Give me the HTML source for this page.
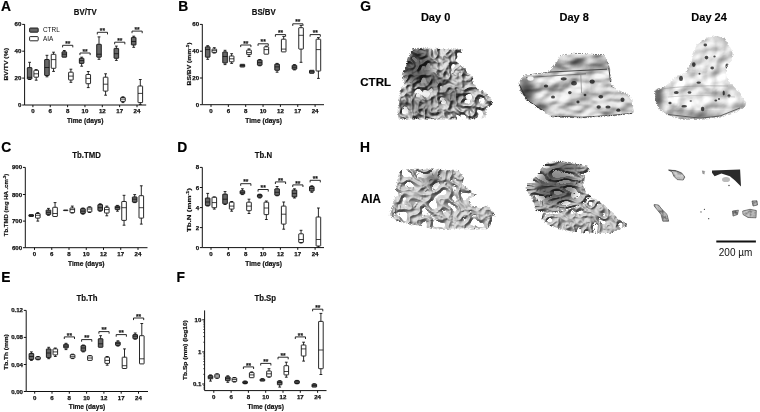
<!DOCTYPE html>
<html><head><meta charset="utf-8"><style>
html,body{margin:0;padding:0;background:#fff;}
body{width:760px;height:412px;overflow:hidden;}
svg{display:block;font-family:"Liberation Sans", sans-serif;will-change:transform;}
.ax{fill:none;stroke:#111;stroke-width:1.0;}
.mn{fill:none;stroke:#111;stroke-width:0.7;}
.wk{fill:none;stroke:#111;stroke-width:0.9;}
.bc{fill:#666;stroke:#111;stroke-width:0.9;}
.ba{fill:#fff;stroke:#111;stroke-width:0.9;}
.md{fill:none;stroke:#111;stroke-width:0.8;}
.br{fill:none;stroke:#111;stroke-width:0.9;}
.tk{font-size:6.1px;font-weight:bold;fill:#111;stroke:#111;stroke-width:0.25;}
.xl{font-size:6.6px;font-weight:bold;fill:#111;stroke:#111;stroke-width:0.2;}
.yl{font-size:6.0px;font-weight:bold;fill:#111;stroke:#111;stroke-width:0.2;}
.ti{font-size:7.8px;font-weight:bold;fill:#111;stroke:#111;stroke-width:0.15;}
.lt{font-size:13.8px;font-weight:bold;fill:#000;stroke:#000;stroke-width:0.2;}
.st{font-size:6.6px;font-weight:bold;fill:#111;stroke:#111;stroke-width:0.15;}
.lg{font-size:6.4px;fill:#111;}
.big{font-size:11px;font-weight:bold;fill:#000;stroke:#000;stroke-width:0.15;}
.lab{font-size:11.5px;font-weight:bold;fill:#000;stroke:#000;stroke-width:0.2;}
.sb{font-size:10px;fill:#111;}
</style></head><body>
<svg width="760" height="412" viewBox="0 0 760 412">
<path d="M24.6,24.2V105.0H146.2" class="ax"/>
<path d="M22.20,24.40H24.6" class="ax"/>
<text x="21.40" y="26.40" class="tk" text-anchor="end">60</text>
<path d="M22.20,51.20H24.6" class="ax"/>
<text x="21.40" y="53.20" class="tk" text-anchor="end">40</text>
<path d="M22.20,78.10H24.6" class="ax"/>
<text x="21.40" y="80.10" class="tk" text-anchor="end">20</text>
<path d="M22.20,105.00H24.6" class="ax"/>
<text x="21.40" y="107.00" class="tk" text-anchor="end">0</text>
<path d="M32.90,105.0V107.20" class="ax"/>
<text x="32.90" y="113.20" class="tk" text-anchor="middle">0</text>
<path d="M50.25,105.0V107.20" class="ax"/>
<text x="50.25" y="113.20" class="tk" text-anchor="middle">6</text>
<path d="M67.60,105.0V107.20" class="ax"/>
<text x="67.60" y="113.20" class="tk" text-anchor="middle">8</text>
<path d="M84.95,105.0V107.20" class="ax"/>
<text x="84.95" y="113.20" class="tk" text-anchor="middle">10</text>
<path d="M102.30,105.0V107.20" class="ax"/>
<text x="102.30" y="113.20" class="tk" text-anchor="middle">12</text>
<path d="M119.65,105.0V107.20" class="ax"/>
<text x="119.65" y="113.20" class="tk" text-anchor="middle">17</text>
<path d="M137.00,105.0V107.20" class="ax"/>
<text x="137.00" y="113.20" class="tk" text-anchor="middle">24</text>
<text x="85.2" y="122.9" class="xl" text-anchor="middle">Time (days)</text>
<text transform="translate(7.6,64.3) rotate(-90)" class="yl" text-anchor="middle" textLength="32.5" lengthAdjust="spacingAndGlyphs">BV/TV (%)</text>
<text transform="translate(85.3,14.9) scale(1,1.2)" class="ti" text-anchor="middle">BV/TV</text>
<text x="1.0" y="11.1" class="lt">A</text>
<path d="M29.60,62.3V67.6M28.20,62.3H31.00" class="wk"/>
<path d="M29.60,79.1V79.5M28.20,79.5H31.00" class="wk"/>
<rect x="27.30" y="67.6" width="4.6" height="11.50" rx="0.4" class="bc"/>
<path d="M27.30,77.3H31.90" class="md"/>
<path d="M36.20,69.6V70.3M34.80,69.6H37.60" class="wk"/>
<path d="M36.20,77.2V80.2M34.80,80.2H37.60" class="wk"/>
<rect x="33.90" y="70.3" width="4.6" height="6.90" rx="0.4" class="ba"/>
<path d="M33.90,73.8H38.50" class="md"/>
<path d="M46.95,55.3V59.5M45.55,55.3H48.35" class="wk"/>
<path d="M46.95,75.5V76.8M45.55,76.8H48.35" class="wk"/>
<rect x="44.65" y="59.5" width="4.6" height="16.00" rx="0.4" class="bc"/>
<path d="M44.65,67.5H49.25" class="md"/>
<path d="M53.55,52.2V54.3M52.15,52.2H54.95" class="wk"/>
<path d="M53.55,68.3V71.4M52.15,71.4H54.95" class="wk"/>
<rect x="51.25" y="54.3" width="4.6" height="14.00" rx="0.4" class="ba"/>
<path d="M51.25,59.6H55.85" class="md"/>
<path d="M64.30,50.5V51.8M62.90,50.5H65.70" class="wk"/>
<rect x="62.00" y="51.8" width="4.6" height="5.40" rx="0.4" class="bc"/>
<path d="M62.00,54.2H66.60" class="md"/>
<path d="M70.90,69.2V72.2M69.50,69.2H72.30" class="wk"/>
<path d="M70.90,80.0V82.3M69.50,82.3H72.30" class="wk"/>
<rect x="68.60" y="72.2" width="4.6" height="7.80" rx="0.4" class="ba"/>
<path d="M68.60,76.1H73.20" class="md"/>
<path d="M81.65,57.2V58.3M80.25,57.2H83.05" class="wk"/>
<path d="M81.65,63.4V66.2M80.25,66.2H83.05" class="wk"/>
<rect x="79.35" y="58.3" width="4.6" height="5.10" rx="0.4" class="bc"/>
<path d="M79.35,60.6H83.95" class="md"/>
<path d="M88.25,71.5V74.5M86.85,71.5H89.65" class="wk"/>
<path d="M88.25,83.7V87.6M86.85,87.6H89.65" class="wk"/>
<rect x="85.95" y="74.5" width="4.6" height="9.20" rx="0.4" class="ba"/>
<path d="M85.95,78.4H90.55" class="md"/>
<path d="M99.00,36.9V44.3M97.60,36.9H100.40" class="wk"/>
<path d="M99.00,57.2V59.3M97.60,59.3H100.40" class="wk"/>
<rect x="96.70" y="44.3" width="4.6" height="12.90" rx="0.4" class="bc"/>
<path d="M96.70,54.2H101.30" class="md"/>
<path d="M105.60,73.8V77.2M104.20,73.8H107.00" class="wk"/>
<path d="M105.60,91.1V95.2M104.20,95.2H107.00" class="wk"/>
<rect x="103.30" y="77.2" width="4.6" height="13.90" rx="0.4" class="ba"/>
<path d="M103.30,84.2H107.90" class="md"/>
<path d="M116.35,46.1V48.4M114.95,46.1H117.75" class="wk"/>
<path d="M116.35,58.3V60.4M114.95,60.4H117.75" class="wk"/>
<rect x="114.05" y="48.4" width="4.6" height="9.90" rx="0.4" class="bc"/>
<path d="M114.05,53.7H118.65" class="md"/>
<path d="M122.95,96.8V97.5M121.55,96.8H124.35" class="wk"/>
<path d="M122.95,101.4V102.6M121.55,102.6H124.35" class="wk"/>
<rect x="120.65" y="97.5" width="4.6" height="3.90" rx="0.4" class="ba"/>
<path d="M120.65,99.1H125.25" class="md"/>
<path d="M133.70,36.2V37.4M132.30,36.2H135.10" class="wk"/>
<path d="M133.70,45.0V47.3M132.30,47.3H135.10" class="wk"/>
<rect x="131.40" y="37.4" width="4.6" height="7.60" rx="0.4" class="bc"/>
<path d="M131.40,41.5H136.00" class="md"/>
<path d="M140.30,79.5V86.0M138.90,79.5H141.70" class="wk"/>
<path d="M140.30,102.6V104.4M138.90,104.4H141.70" class="wk"/>
<rect x="138.00" y="86.0" width="4.6" height="16.60" rx="0.4" class="ba"/>
<path d="M138.00,93.4H142.60" class="md"/>
<path d="M62.60,47.40V45.3H72.80V47.40" class="br"/>
<text x="67.70" y="45.90" class="st" text-anchor="middle">**</text>
<path d="M79.95,55.10V53.0H90.15V55.10" class="br"/>
<text x="85.05" y="53.60" class="st" text-anchor="middle">**</text>
<path d="M97.30,34.40V32.3H107.50V34.40" class="br"/>
<text x="102.40" y="32.90" class="st" text-anchor="middle">**</text>
<path d="M114.65,44.30V42.2H124.85V44.30" class="br"/>
<text x="119.75" y="42.80" class="st" text-anchor="middle">**</text>
<path d="M132.00,33.20V31.1H142.20V33.20" class="br"/>
<text x="137.10" y="31.70" class="st" text-anchor="middle">**</text>
<path d="M202.3,24.2V104.7H324.0" class="ax"/>
<path d="M199.90,24.40H202.3" class="ax"/>
<text x="199.10" y="26.40" class="tk" text-anchor="end">60</text>
<path d="M199.90,51.20H202.3" class="ax"/>
<text x="199.10" y="53.20" class="tk" text-anchor="end">40</text>
<path d="M199.90,78.00H202.3" class="ax"/>
<text x="199.10" y="80.00" class="tk" text-anchor="end">20</text>
<path d="M199.90,104.70H202.3" class="ax"/>
<text x="199.10" y="106.70" class="tk" text-anchor="end">0</text>
<path d="M211.00,104.7V106.90" class="ax"/>
<text x="211.00" y="112.90" class="tk" text-anchor="middle">0</text>
<path d="M228.35,104.7V106.90" class="ax"/>
<text x="228.35" y="112.90" class="tk" text-anchor="middle">6</text>
<path d="M245.70,104.7V106.90" class="ax"/>
<text x="245.70" y="112.90" class="tk" text-anchor="middle">8</text>
<path d="M263.05,104.7V106.90" class="ax"/>
<text x="263.05" y="112.90" class="tk" text-anchor="middle">10</text>
<path d="M280.40,104.7V106.90" class="ax"/>
<text x="280.40" y="112.90" class="tk" text-anchor="middle">12</text>
<path d="M297.75,104.7V106.90" class="ax"/>
<text x="297.75" y="112.90" class="tk" text-anchor="middle">17</text>
<path d="M315.10,104.7V106.90" class="ax"/>
<text x="315.10" y="112.90" class="tk" text-anchor="middle">24</text>
<text x="263.6" y="122.6" class="xl" text-anchor="middle">Time (days)</text>
<text transform="translate(190.6,63.9) rotate(-90)" class="yl" text-anchor="middle" textLength="43.0" lengthAdjust="spacingAndGlyphs">BS/BV (mm<tspan dy="-2" font-size="4.0">-1</tspan><tspan dy="2">)</tspan></text>
<text transform="translate(263.7,14.9) scale(1,1.2)" class="ti" text-anchor="middle">BS/BV</text>
<text x="178.3" y="11.1" class="lt">B</text>
<path d="M207.70,45.7V46.8M206.30,45.7H209.10" class="wk"/>
<path d="M207.70,57.2V59.3M206.30,59.3H209.10" class="wk"/>
<rect x="205.40" y="46.8" width="4.6" height="10.40" rx="0.4" class="bc"/>
<path d="M205.40,49.6H210.00" class="md"/>
<path d="M214.30,47.7V49.1M212.90,47.7H215.70" class="wk"/>
<path d="M214.30,52.6V53.0M212.90,53.0H215.70" class="wk"/>
<rect x="212.00" y="49.1" width="4.6" height="3.50" rx="0.4" class="ba"/>
<path d="M212.00,50.7H216.60" class="md"/>
<path d="M225.05,50.3V51.9M223.65,50.3H226.45" class="wk"/>
<path d="M225.05,63.0V64.6M223.65,64.6H226.45" class="wk"/>
<rect x="222.75" y="51.9" width="4.6" height="11.10" rx="0.4" class="bc"/>
<path d="M222.75,56.5H227.35" class="md"/>
<path d="M231.65,53.7V56.0M230.25,53.7H233.05" class="wk"/>
<path d="M231.65,61.8V63.4M230.25,63.4H233.05" class="wk"/>
<rect x="229.35" y="56.0" width="4.6" height="5.80" rx="0.4" class="ba"/>
<path d="M229.35,58.8H233.95" class="md"/>
<rect x="240.10" y="64.3" width="4.6" height="2.70" rx="0.4" class="bc"/>
<path d="M240.10,65.5H244.70" class="md"/>
<path d="M249.00,48.9V50.0M247.60,48.9H250.40" class="wk"/>
<path d="M249.00,54.6V56.5M247.60,56.5H250.40" class="wk"/>
<rect x="246.70" y="50.0" width="4.6" height="4.60" rx="0.4" class="ba"/>
<path d="M246.70,52.6H251.30" class="md"/>
<path d="M259.75,59.5V60.0M258.35,59.5H261.15" class="wk"/>
<path d="M259.75,65.3V65.8M258.35,65.8H261.15" class="wk"/>
<rect x="257.45" y="60.0" width="4.6" height="5.30" rx="0.4" class="bc"/>
<path d="M257.45,62.7H262.05" class="md"/>
<path d="M266.35,46.1V46.8M264.95,46.1H267.75" class="wk"/>
<rect x="264.05" y="46.8" width="4.6" height="7.40" rx="0.4" class="ba"/>
<path d="M264.05,49.6H268.65" class="md"/>
<path d="M277.10,63.4V64.1M275.70,63.4H278.50" class="wk"/>
<path d="M277.10,70.3V72.2M275.70,72.2H278.50" class="wk"/>
<rect x="274.80" y="64.1" width="4.6" height="6.20" rx="0.4" class="bc"/>
<path d="M274.80,66.9H279.40" class="md"/>
<path d="M283.70,36.4V39.2M282.30,36.4H285.10" class="wk"/>
<rect x="281.40" y="39.2" width="4.6" height="12.70" rx="0.4" class="ba"/>
<path d="M281.40,49.1H286.00" class="md"/>
<path d="M294.45,64.6V65.3M293.05,64.6H295.85" class="wk"/>
<path d="M294.45,69.2V69.9M293.05,69.9H295.85" class="wk"/>
<rect x="292.15" y="65.3" width="4.6" height="3.90" rx="0.4" class="bc"/>
<path d="M292.15,67.2H296.75" class="md"/>
<path d="M301.05,25.4V27.7M299.65,25.4H302.45" class="wk"/>
<path d="M301.05,49.1V62.3M299.65,62.3H302.45" class="wk"/>
<rect x="298.75" y="27.7" width="4.6" height="21.40" rx="0.4" class="ba"/>
<path d="M298.75,35.3H303.35" class="md"/>
<rect x="309.50" y="70.3" width="4.6" height="3.00" rx="0.4" class="bc"/>
<path d="M309.50,71.8H314.10" class="md"/>
<path d="M318.40,37.6V39.2M317.00,37.6H319.80" class="wk"/>
<path d="M318.40,71.0V78.4M317.00,78.4H319.80" class="wk"/>
<rect x="316.10" y="39.2" width="4.6" height="31.80" rx="0.4" class="ba"/>
<path d="M316.10,49.6H320.70" class="md"/>
<path d="M240.70,47.10V45.0H250.90V47.10" class="br"/>
<text x="245.80" y="45.60" class="st" text-anchor="middle">**</text>
<path d="M258.05,45.90V43.8H268.25V45.90" class="br"/>
<text x="263.15" y="44.40" class="st" text-anchor="middle">**</text>
<path d="M275.40,36.70V34.6H285.60V36.70" class="br"/>
<text x="280.50" y="35.20" class="st" text-anchor="middle">**</text>
<path d="M292.75,25.90V23.8H302.95V25.90" class="br"/>
<text x="297.85" y="24.40" class="st" text-anchor="middle">**</text>
<path d="M310.10,36.70V34.6H320.30V36.70" class="br"/>
<text x="315.20" y="35.20" class="st" text-anchor="middle">**</text>
<path d="M25.3,167.4V247.7H147.5" class="ax"/>
<path d="M22.90,167.40H25.3" class="ax"/>
<text x="22.10" y="169.40" class="tk" text-anchor="end">900</text>
<path d="M22.90,194.50H25.3" class="ax"/>
<text x="22.10" y="196.50" class="tk" text-anchor="end">800</text>
<path d="M22.90,221.10H25.3" class="ax"/>
<text x="22.10" y="223.10" class="tk" text-anchor="end">700</text>
<path d="M22.90,247.70H25.3" class="ax"/>
<text x="22.10" y="249.70" class="tk" text-anchor="end">600</text>
<path d="M34.50,247.7V249.90" class="ax"/>
<text x="34.50" y="255.90" class="tk" text-anchor="middle">0</text>
<path d="M51.75,247.7V249.90" class="ax"/>
<text x="51.75" y="255.90" class="tk" text-anchor="middle">6</text>
<path d="M69.00,247.7V249.90" class="ax"/>
<text x="69.00" y="255.90" class="tk" text-anchor="middle">8</text>
<path d="M86.25,247.7V249.90" class="ax"/>
<text x="86.25" y="255.90" class="tk" text-anchor="middle">10</text>
<path d="M103.50,247.7V249.90" class="ax"/>
<text x="103.50" y="255.90" class="tk" text-anchor="middle">12</text>
<path d="M120.75,247.7V249.90" class="ax"/>
<text x="120.75" y="255.90" class="tk" text-anchor="middle">17</text>
<path d="M138.00,247.7V249.90" class="ax"/>
<text x="138.00" y="255.90" class="tk" text-anchor="middle">24</text>
<text x="86.3" y="265.6" class="xl" text-anchor="middle">Time (days)</text>
<text transform="translate(7.5,204.9) rotate(-90)" class="yl" text-anchor="middle" textLength="62.5" lengthAdjust="spacingAndGlyphs">Tb.TMD (mg HA .cm<tspan dy="-2" font-size="4.0">-3</tspan><tspan dy="2">)</tspan></text>
<text transform="translate(86.6,158.1) scale(1,1.2)" class="ti" text-anchor="middle">Tb.TMD</text>
<text x="1.2" y="152.0" class="lt">C</text>
<rect x="28.90" y="214.6" width="4.6" height="1.90" rx="0.4" class="bc"/>
<path d="M28.90,215.5H33.50" class="md"/>
<path d="M37.80,212.6V213.5M36.40,212.6H39.20" class="wk"/>
<path d="M37.80,218.1V221.1M36.40,221.1H39.20" class="wk"/>
<rect x="35.50" y="213.5" width="4.6" height="4.60" rx="0.4" class="ba"/>
<path d="M35.50,215.3H40.10" class="md"/>
<path d="M48.45,208.4V210.0M47.05,208.4H49.85" class="wk"/>
<path d="M48.45,214.6V215.3M47.05,215.3H49.85" class="wk"/>
<rect x="46.15" y="210.0" width="4.6" height="4.60" rx="0.4" class="bc"/>
<path d="M46.15,212.3H50.75" class="md"/>
<path d="M55.05,202.6V207.3M53.65,202.6H56.45" class="wk"/>
<rect x="52.75" y="207.3" width="4.6" height="9.20" rx="0.4" class="ba"/>
<path d="M52.75,213.5H57.35" class="md"/>
<rect x="63.40" y="210.0" width="4.6" height="0.60" rx="0.4" class="bc"/>
<path d="M72.30,206.1V208.0M70.90,206.1H73.70" class="wk"/>
<path d="M72.30,212.6V213.0M70.90,213.0H73.70" class="wk"/>
<rect x="70.00" y="208.0" width="4.6" height="4.60" rx="0.4" class="ba"/>
<path d="M70.00,209.6H74.60" class="md"/>
<path d="M82.95,208.0V208.6M81.55,208.0H84.35" class="wk"/>
<path d="M82.95,213.5V214.2M81.55,214.2H84.35" class="wk"/>
<rect x="80.65" y="208.6" width="4.6" height="4.90" rx="0.4" class="bc"/>
<path d="M80.65,211.2H85.25" class="md"/>
<path d="M89.55,206.8V207.3M88.15,206.8H90.95" class="wk"/>
<path d="M89.55,211.9V212.5M88.15,212.5H90.95" class="wk"/>
<rect x="87.25" y="207.3" width="4.6" height="4.60" rx="0.4" class="ba"/>
<path d="M87.25,209.0H91.85" class="md"/>
<path d="M100.20,203.8V204.5M98.80,203.8H101.60" class="wk"/>
<path d="M100.20,210.7V211.2M98.80,211.2H101.60" class="wk"/>
<rect x="97.90" y="204.5" width="4.6" height="6.20" rx="0.4" class="bc"/>
<path d="M97.90,207.7H102.50" class="md"/>
<path d="M106.80,206.1V207.3M105.40,206.1H108.20" class="wk"/>
<path d="M106.80,213.0V215.8M105.40,215.8H108.20" class="wk"/>
<rect x="104.50" y="207.3" width="4.6" height="5.70" rx="0.4" class="ba"/>
<path d="M104.50,209.6H109.10" class="md"/>
<path d="M117.45,205.4V206.1M116.05,205.4H118.85" class="wk"/>
<path d="M117.45,209.6V211.2M116.05,211.2H118.85" class="wk"/>
<rect x="115.15" y="206.1" width="4.6" height="3.50" rx="0.4" class="bc"/>
<path d="M115.15,207.5H119.75" class="md"/>
<path d="M124.05,195.3V201.5M122.65,195.3H125.45" class="wk"/>
<path d="M124.05,220.4V225.2M122.65,225.2H125.45" class="wk"/>
<rect x="121.75" y="201.5" width="4.6" height="18.90" rx="0.4" class="ba"/>
<path d="M121.75,207.7H126.35" class="md"/>
<path d="M134.70,194.6V196.9M133.30,194.6H136.10" class="wk"/>
<path d="M134.70,202.2V202.6M133.30,202.6H136.10" class="wk"/>
<rect x="132.40" y="196.9" width="4.6" height="5.30" rx="0.4" class="bc"/>
<path d="M132.40,199.2H137.00" class="md"/>
<path d="M141.30,185.8V195.7M139.90,185.8H142.70" class="wk"/>
<path d="M141.30,218.1V224.1M139.90,224.1H142.70" class="wk"/>
<rect x="139.00" y="195.7" width="4.6" height="22.40" rx="0.4" class="ba"/>
<path d="M139.00,207.7H143.60" class="md"/>
<path d="M202.3,167.4V247.6H324.0" class="ax"/>
<path d="M199.90,167.40H202.3" class="ax"/>
<text x="199.10" y="169.40" class="tk" text-anchor="end">8</text>
<path d="M199.90,187.50H202.3" class="ax"/>
<text x="199.10" y="189.50" class="tk" text-anchor="end">6</text>
<path d="M199.90,207.60H202.3" class="ax"/>
<text x="199.10" y="209.60" class="tk" text-anchor="end">4</text>
<path d="M199.90,227.60H202.3" class="ax"/>
<text x="199.10" y="229.60" class="tk" text-anchor="end">2</text>
<path d="M199.90,247.60H202.3" class="ax"/>
<text x="199.10" y="249.60" class="tk" text-anchor="end">0</text>
<path d="M211.00,247.6V249.80" class="ax"/>
<text x="211.00" y="255.80" class="tk" text-anchor="middle">0</text>
<path d="M228.35,247.6V249.80" class="ax"/>
<text x="228.35" y="255.80" class="tk" text-anchor="middle">6</text>
<path d="M245.70,247.6V249.80" class="ax"/>
<text x="245.70" y="255.80" class="tk" text-anchor="middle">8</text>
<path d="M263.05,247.6V249.80" class="ax"/>
<text x="263.05" y="255.80" class="tk" text-anchor="middle">10</text>
<path d="M280.40,247.6V249.80" class="ax"/>
<text x="280.40" y="255.80" class="tk" text-anchor="middle">12</text>
<path d="M297.75,247.6V249.80" class="ax"/>
<text x="297.75" y="255.80" class="tk" text-anchor="middle">17</text>
<path d="M315.10,247.6V249.80" class="ax"/>
<text x="315.10" y="255.80" class="tk" text-anchor="middle">24</text>
<text x="263.6" y="265.6" class="xl" text-anchor="middle">Time (days)</text>
<text transform="translate(190.6,210.1) rotate(-90)" class="yl" text-anchor="middle" textLength="44.0" lengthAdjust="spacingAndGlyphs">Tb.N (mm<tspan dy="-2" font-size="4.0">-1</tspan><tspan dy="2">)</tspan></text>
<text transform="translate(263.5,158.1) scale(1,1.2)" class="ti" text-anchor="middle">Tb.N</text>
<text x="177.3" y="152.0" class="lt">D</text>
<path d="M207.70,193.4V198.0M206.30,193.4H209.10" class="wk"/>
<path d="M207.70,205.6V206.0M206.30,206.0H209.10" class="wk"/>
<rect x="205.40" y="198.0" width="4.6" height="7.60" rx="0.4" class="bc"/>
<path d="M205.40,202.0H210.00" class="md"/>
<path d="M214.30,196.9V197.3M212.90,196.9H215.70" class="wk"/>
<path d="M214.30,207.7V209.1M212.90,209.1H215.70" class="wk"/>
<rect x="212.00" y="197.3" width="4.6" height="10.40" rx="0.4" class="ba"/>
<path d="M212.00,202.6H216.60" class="md"/>
<path d="M225.05,191.6V194.1M223.65,191.6H226.45" class="wk"/>
<path d="M225.05,203.8V204.5M223.65,204.5H226.45" class="wk"/>
<rect x="222.75" y="194.1" width="4.6" height="9.70" rx="0.4" class="bc"/>
<path d="M222.75,199.2H227.35" class="md"/>
<path d="M231.65,201.5V202.2M230.25,201.5H233.05" class="wk"/>
<path d="M231.65,209.1V211.2M230.25,211.2H233.05" class="wk"/>
<rect x="229.35" y="202.2" width="4.6" height="6.90" rx="0.4" class="ba"/>
<path d="M229.35,206.1H233.95" class="md"/>
<path d="M242.40,188.8V190.7M241.00,188.8H243.80" class="wk"/>
<path d="M242.40,193.9V194.6M241.00,194.6H243.80" class="wk"/>
<rect x="240.10" y="190.7" width="4.6" height="3.20" rx="0.4" class="bc"/>
<path d="M240.10,192.3H244.70" class="md"/>
<path d="M249.00,199.2V202.2M247.60,199.2H250.40" class="wk"/>
<path d="M249.00,210.7V213.5M247.60,213.5H250.40" class="wk"/>
<rect x="246.70" y="202.2" width="4.6" height="8.50" rx="0.4" class="ba"/>
<path d="M246.70,206.1H251.30" class="md"/>
<path d="M259.75,194.2V194.6M258.35,194.2H261.15" class="wk"/>
<path d="M259.75,197.3V198.0M258.35,198.0H261.15" class="wk"/>
<rect x="257.45" y="194.6" width="4.6" height="2.70" rx="0.4" class="bc"/>
<path d="M257.45,195.8H262.05" class="md"/>
<path d="M266.35,201.0V202.2M264.95,201.0H267.75" class="wk"/>
<path d="M266.35,214.6V219.5M264.95,219.5H267.75" class="wk"/>
<rect x="264.05" y="202.2" width="4.6" height="12.40" rx="0.4" class="ba"/>
<path d="M264.05,208.0H268.65" class="md"/>
<path d="M277.10,186.5V188.8M275.70,186.5H278.50" class="wk"/>
<path d="M277.10,195.3V195.8M275.70,195.8H278.50" class="wk"/>
<rect x="274.80" y="188.8" width="4.6" height="6.50" rx="0.4" class="bc"/>
<path d="M274.80,192.3H279.40" class="md"/>
<path d="M283.70,202.0V206.1M282.30,202.0H285.10" class="wk"/>
<path d="M283.70,224.1V229.2M282.30,229.2H285.10" class="wk"/>
<rect x="281.40" y="206.1" width="4.6" height="18.00" rx="0.4" class="ba"/>
<path d="M281.40,214.2H286.00" class="md"/>
<path d="M294.45,188.8V190.0M293.05,188.8H295.85" class="wk"/>
<path d="M294.45,196.9V198.0M293.05,198.0H295.85" class="wk"/>
<rect x="292.15" y="190.0" width="4.6" height="6.90" rx="0.4" class="bc"/>
<path d="M292.15,193.4H296.75" class="md"/>
<path d="M301.05,230.3V233.8M299.65,230.3H302.45" class="wk"/>
<path d="M301.05,242.5V243.0M299.65,243.0H302.45" class="wk"/>
<rect x="298.75" y="233.8" width="4.6" height="8.70" rx="0.4" class="ba"/>
<path d="M298.75,239.5H303.35" class="md"/>
<path d="M311.80,185.8V186.5M310.40,185.8H313.20" class="wk"/>
<path d="M311.80,191.1V192.3M310.40,192.3H313.20" class="wk"/>
<rect x="309.50" y="186.5" width="4.6" height="4.60" rx="0.4" class="bc"/>
<path d="M309.50,188.4H314.10" class="md"/>
<path d="M318.40,208.0V217.0M317.00,208.0H319.80" class="wk"/>
<path d="M318.40,246.0V247.1M317.00,247.1H319.80" class="wk"/>
<rect x="316.10" y="217.0" width="4.6" height="29.00" rx="0.4" class="ba"/>
<path d="M316.10,239.5H320.70" class="md"/>
<path d="M240.70,185.80V183.7H250.90V185.80" class="br"/>
<text x="245.80" y="184.30" class="st" text-anchor="middle">**</text>
<path d="M258.05,191.60V189.5H268.25V191.60" class="br"/>
<text x="263.15" y="190.10" class="st" text-anchor="middle">**</text>
<path d="M275.40,184.00V181.9H285.60V184.00" class="br"/>
<text x="280.50" y="182.50" class="st" text-anchor="middle">**</text>
<path d="M292.75,187.00V184.9H302.95V187.00" class="br"/>
<text x="297.85" y="185.50" class="st" text-anchor="middle">**</text>
<path d="M310.10,182.40V180.3H320.30V182.40" class="br"/>
<text x="315.20" y="180.90" class="st" text-anchor="middle">**</text>
<path d="M26.2,310.4V391.5H148.0" class="ax"/>
<path d="M23.80,310.40H26.2" class="ax"/>
<text x="23.00" y="312.40" class="tk" text-anchor="end">0.12</text>
<path d="M23.80,337.40H26.2" class="ax"/>
<text x="23.00" y="339.40" class="tk" text-anchor="end">0.08</text>
<path d="M23.80,364.50H26.2" class="ax"/>
<text x="23.00" y="366.50" class="tk" text-anchor="end">0.04</text>
<path d="M23.80,391.50H26.2" class="ax"/>
<text x="23.00" y="393.50" class="tk" text-anchor="end">0.00</text>
<path d="M34.70,391.5V393.70" class="ax"/>
<text x="34.70" y="399.70" class="tk" text-anchor="middle">0</text>
<path d="M52.00,391.5V393.70" class="ax"/>
<text x="52.00" y="399.70" class="tk" text-anchor="middle">6</text>
<path d="M69.30,391.5V393.70" class="ax"/>
<text x="69.30" y="399.70" class="tk" text-anchor="middle">8</text>
<path d="M86.60,391.5V393.70" class="ax"/>
<text x="86.60" y="399.70" class="tk" text-anchor="middle">10</text>
<path d="M103.90,391.5V393.70" class="ax"/>
<text x="103.90" y="399.70" class="tk" text-anchor="middle">12</text>
<path d="M121.20,391.5V393.70" class="ax"/>
<text x="121.20" y="399.70" class="tk" text-anchor="middle">17</text>
<path d="M138.50,391.5V393.70" class="ax"/>
<text x="138.50" y="399.70" class="tk" text-anchor="middle">24</text>
<text x="87.0" y="409.4" class="xl" text-anchor="middle">Time (days)</text>
<text transform="translate(7.6,352.0) rotate(-90)" class="yl" text-anchor="middle" textLength="35.5" lengthAdjust="spacingAndGlyphs">Tb.Th (mm)</text>
<text transform="translate(87.0,300.9) scale(1,1.2)" class="ti" text-anchor="middle">Tb.Th</text>
<text x="1.2" y="282.3" class="lt">E</text>
<path d="M31.40,351.9V353.5M30.00,351.9H32.80" class="wk"/>
<path d="M31.40,359.5V360.4M30.00,360.4H32.80" class="wk"/>
<rect x="29.10" y="353.5" width="4.6" height="6.00" rx="0.4" class="bc"/>
<path d="M29.10,356.5H33.70" class="md"/>
<path d="M38.00,356.5V356.9M36.60,356.5H39.40" class="wk"/>
<path d="M38.00,359.5V359.8M36.60,359.8H39.40" class="wk"/>
<rect x="35.70" y="356.9" width="4.6" height="2.60" rx="0.4" class="ba"/>
<path d="M35.70,358.2H40.30" class="md"/>
<path d="M48.70,347.3V348.9M47.30,347.3H50.10" class="wk"/>
<path d="M48.70,357.6V358.7M47.30,358.7H50.10" class="wk"/>
<rect x="46.40" y="348.9" width="4.6" height="8.70" rx="0.4" class="bc"/>
<path d="M46.40,353.0H51.00" class="md"/>
<path d="M55.30,348.0V348.9M53.90,348.0H56.70" class="wk"/>
<path d="M55.30,354.9V356.5M53.90,356.5H56.70" class="wk"/>
<rect x="53.00" y="348.9" width="4.6" height="6.00" rx="0.4" class="ba"/>
<path d="M53.00,351.9H57.60" class="md"/>
<path d="M66.00,343.3V344.3M64.60,343.3H67.40" class="wk"/>
<path d="M66.00,348.0V349.6M64.60,349.6H67.40" class="wk"/>
<rect x="63.70" y="344.3" width="4.6" height="3.70" rx="0.4" class="bc"/>
<path d="M63.70,346.1H68.30" class="md"/>
<path d="M72.60,354.2V354.6M71.20,354.2H74.00" class="wk"/>
<path d="M72.60,358.1V358.6M71.20,358.6H74.00" class="wk"/>
<rect x="70.30" y="354.6" width="4.6" height="3.50" rx="0.4" class="ba"/>
<path d="M70.30,356.3H74.90" class="md"/>
<path d="M83.30,345.0V345.6M81.90,345.0H84.70" class="wk"/>
<path d="M83.30,351.2V351.9M81.90,351.9H84.70" class="wk"/>
<rect x="81.00" y="345.6" width="4.6" height="5.60" rx="0.4" class="bc"/>
<path d="M81.00,348.0H85.60" class="md"/>
<path d="M89.90,355.5V355.8M88.50,355.5H91.30" class="wk"/>
<rect x="87.60" y="355.8" width="4.6" height="4.60" rx="0.4" class="ba"/>
<path d="M87.60,358.0H92.20" class="md"/>
<path d="M100.60,335.7V338.7M99.20,335.7H102.00" class="wk"/>
<rect x="98.30" y="338.7" width="4.6" height="8.60" rx="0.4" class="bc"/>
<path d="M98.30,343.8H102.90" class="md"/>
<path d="M107.20,356.5V357.2M105.80,356.5H108.60" class="wk"/>
<path d="M107.20,363.4V365.2M105.80,365.2H108.60" class="wk"/>
<rect x="104.90" y="357.2" width="4.6" height="6.20" rx="0.4" class="ba"/>
<path d="M104.90,360.4H109.50" class="md"/>
<path d="M117.90,340.8V342.0M116.50,340.8H119.30" class="wk"/>
<path d="M117.90,345.4V346.1M116.50,346.1H119.30" class="wk"/>
<rect x="115.60" y="342.0" width="4.6" height="3.40" rx="0.4" class="bc"/>
<path d="M115.60,343.3H120.20" class="md"/>
<path d="M124.50,348.9V357.2M123.10,348.9H125.90" class="wk"/>
<rect x="122.20" y="357.2" width="4.6" height="11.30" rx="0.4" class="ba"/>
<path d="M122.20,365.7H126.80" class="md"/>
<path d="M135.20,333.0V334.6M133.80,333.0H136.60" class="wk"/>
<path d="M135.20,338.7V339.2M133.80,339.2H136.60" class="wk"/>
<rect x="132.90" y="334.6" width="4.6" height="4.10" rx="0.4" class="bc"/>
<path d="M132.90,336.2H137.50" class="md"/>
<path d="M141.80,323.5V335.7M140.40,323.5H143.20" class="wk"/>
<rect x="139.50" y="335.7" width="4.6" height="28.20" rx="0.4" class="ba"/>
<path d="M139.50,358.8H144.10" class="md"/>
<path d="M64.30,339.00V336.9H74.50V339.00" class="br"/>
<text x="69.40" y="337.50" class="st" text-anchor="middle">**</text>
<path d="M81.60,341.70V339.6H91.80V341.70" class="br"/>
<text x="86.70" y="340.20" class="st" text-anchor="middle">**</text>
<path d="M98.90,333.70V331.6H109.10V333.70" class="br"/>
<text x="104.00" y="332.20" class="st" text-anchor="middle">**</text>
<path d="M116.20,336.70V334.6H126.40V336.70" class="br"/>
<text x="121.30" y="335.20" class="st" text-anchor="middle">**</text>
<path d="M133.50,320.10V318.0H143.70V320.10" class="br"/>
<text x="138.60" y="318.60" class="st" text-anchor="middle">**</text>
<path d="M204.6,310.4V390.6H326.5" class="ax"/>
<path d="M202.20,319.80H204.6" class="ax"/>
<text x="201.40" y="321.80" class="tk" text-anchor="end">10</text>
<path d="M202.20,351.90H204.6" class="ax"/>
<text x="201.40" y="353.90" class="tk" text-anchor="end">1</text>
<path d="M202.20,384.00H204.6" class="ax"/>
<text x="201.40" y="386.00" class="tk" text-anchor="end">0.1</text>
<path d="M203.2,388.97H204.6" class="mn"/>
<path d="M203.2,387.11H204.6" class="mn"/>
<path d="M203.2,385.47H204.6" class="mn"/>
<path d="M203.2,374.34H204.6" class="mn"/>
<path d="M203.2,368.68H204.6" class="mn"/>
<path d="M203.2,364.67H204.6" class="mn"/>
<path d="M203.2,361.56H204.6" class="mn"/>
<path d="M203.2,359.02H204.6" class="mn"/>
<path d="M203.2,356.87H204.6" class="mn"/>
<path d="M203.2,355.01H204.6" class="mn"/>
<path d="M203.2,353.37H204.6" class="mn"/>
<path d="M203.2,342.24H204.6" class="mn"/>
<path d="M203.2,336.58H204.6" class="mn"/>
<path d="M203.2,332.57H204.6" class="mn"/>
<path d="M203.2,329.46H204.6" class="mn"/>
<path d="M203.2,326.92H204.6" class="mn"/>
<path d="M203.2,324.77H204.6" class="mn"/>
<path d="M203.2,322.91H204.6" class="mn"/>
<path d="M203.2,321.27H204.6" class="mn"/>
<path d="M213.80,390.6V392.80" class="ax"/>
<text x="213.80" y="398.80" class="tk" text-anchor="middle">0</text>
<path d="M231.10,390.6V392.80" class="ax"/>
<text x="231.10" y="398.80" class="tk" text-anchor="middle">6</text>
<path d="M248.40,390.6V392.80" class="ax"/>
<text x="248.40" y="398.80" class="tk" text-anchor="middle">8</text>
<path d="M265.70,390.6V392.80" class="ax"/>
<text x="265.70" y="398.80" class="tk" text-anchor="middle">10</text>
<path d="M283.00,390.6V392.80" class="ax"/>
<text x="283.00" y="398.80" class="tk" text-anchor="middle">12</text>
<path d="M300.30,390.6V392.80" class="ax"/>
<text x="300.30" y="398.80" class="tk" text-anchor="middle">17</text>
<path d="M317.60,390.6V392.80" class="ax"/>
<text x="317.60" y="398.80" class="tk" text-anchor="middle">24</text>
<text x="265.7" y="409.4" class="xl" text-anchor="middle">Time (days)</text>
<text transform="translate(187.0,350.1) rotate(-90)" class="yl" text-anchor="middle" textLength="59.8" lengthAdjust="spacingAndGlyphs">Tb.Sp (mm) (log10)</text>
<text transform="translate(265.2,300.9) scale(1,1.2)" class="ti" text-anchor="middle">Tb.Sp</text>
<text x="176.6" y="282.3" class="lt">F</text>
<path d="M210.50,374.9V375.6M209.10,374.9H211.90" class="wk"/>
<path d="M210.50,378.8V381.1M209.10,381.1H211.90" class="wk"/>
<rect x="208.20" y="375.6" width="4.6" height="3.20" rx="0.4" class="bc"/>
<path d="M208.20,377.2H212.80" class="md"/>
<path d="M217.10,373.8V374.2M215.70,373.8H218.50" class="wk"/>
<path d="M217.10,377.9V378.3M215.70,378.3H218.50" class="wk"/>
<rect x="214.80" y="374.2" width="4.6" height="3.70" rx="0.4" class="ba"/>
<path d="M214.80,376.0H219.40" class="md"/>
<path d="M227.80,375.8V376.8M226.40,375.8H229.20" class="wk"/>
<path d="M227.80,380.7V382.3M226.40,382.3H229.20" class="wk"/>
<rect x="225.50" y="376.8" width="4.6" height="3.90" rx="0.4" class="bc"/>
<path d="M225.50,378.3H230.10" class="md"/>
<path d="M234.40,377.5V377.9M233.00,377.5H235.80" class="wk"/>
<path d="M234.40,381.6V382.0M233.00,382.0H235.80" class="wk"/>
<rect x="232.10" y="377.9" width="4.6" height="3.70" rx="0.4" class="ba"/>
<path d="M232.10,379.6H236.70" class="md"/>
<path d="M245.10,381.0V381.4M243.70,381.0H246.50" class="wk"/>
<path d="M245.10,383.5V383.8M243.70,383.8H246.50" class="wk"/>
<rect x="242.80" y="381.4" width="4.6" height="2.10" rx="0.4" class="bc"/>
<path d="M242.80,382.4H247.40" class="md"/>
<path d="M251.70,371.9V372.6M250.30,371.9H253.10" class="wk"/>
<rect x="249.40" y="372.6" width="4.6" height="5.10" rx="0.4" class="ba"/>
<path d="M249.40,374.9H254.00" class="md"/>
<path d="M262.40,378.7V379.0M261.00,378.7H263.80" class="wk"/>
<rect x="260.10" y="379.0" width="4.6" height="2.10" rx="0.4" class="bc"/>
<path d="M260.10,380.0H264.70" class="md"/>
<path d="M269.00,368.7V371.0M267.60,368.7H270.40" class="wk"/>
<path d="M269.00,376.8V377.2M267.60,377.2H270.40" class="wk"/>
<rect x="266.70" y="371.0" width="4.6" height="5.80" rx="0.4" class="ba"/>
<path d="M266.70,373.8H271.30" class="md"/>
<path d="M279.70,380.7V381.1M278.30,380.7H281.10" class="wk"/>
<path d="M279.70,384.8V387.1M278.30,387.1H281.10" class="wk"/>
<rect x="277.40" y="381.1" width="4.6" height="3.70" rx="0.4" class="bc"/>
<path d="M277.40,382.5H282.00" class="md"/>
<path d="M286.30,362.2V365.7M284.90,362.2H287.70" class="wk"/>
<path d="M286.30,374.9V377.2M284.90,377.2H287.70" class="wk"/>
<rect x="284.00" y="365.7" width="4.6" height="9.20" rx="0.4" class="ba"/>
<path d="M284.00,371.5H288.60" class="md"/>
<path d="M297.00,380.4V380.7M295.60,380.4H298.40" class="wk"/>
<path d="M297.00,383.5V383.8M295.60,383.8H298.40" class="wk"/>
<rect x="294.70" y="380.7" width="4.6" height="2.80" rx="0.4" class="bc"/>
<path d="M294.70,382.0H299.30" class="md"/>
<path d="M303.60,342.2V345.0M302.20,342.2H305.00" class="wk"/>
<path d="M303.60,356.0V361.1M302.20,361.1H305.00" class="wk"/>
<rect x="301.30" y="345.0" width="4.6" height="11.00" rx="0.4" class="ba"/>
<path d="M301.30,348.9H305.90" class="md"/>
<path d="M314.30,383.8V384.1M312.90,383.8H315.70" class="wk"/>
<rect x="312.00" y="384.1" width="4.6" height="3.00" rx="0.4" class="bc"/>
<path d="M312.00,385.6H316.60" class="md"/>
<path d="M320.90,313.4V321.4M319.50,313.4H322.30" class="wk"/>
<path d="M320.90,368.7V374.5M319.50,374.5H322.30" class="wk"/>
<rect x="318.60" y="321.4" width="4.6" height="47.30" rx="0.4" class="ba"/>
<path d="M318.60,350.0H323.20" class="md"/>
<path d="M243.40,369.00V366.9H253.60V369.00" class="br"/>
<text x="248.50" y="367.50" class="st" text-anchor="middle">**</text>
<path d="M260.70,365.50V363.4H270.90V365.50" class="br"/>
<text x="265.80" y="364.00" class="st" text-anchor="middle">**</text>
<path d="M278.00,359.30V357.2H288.20V359.30" class="br"/>
<text x="283.10" y="357.80" class="st" text-anchor="middle">**</text>
<path d="M295.30,339.00V336.9H305.50V339.00" class="br"/>
<text x="300.40" y="337.50" class="st" text-anchor="middle">**</text>
<path d="M312.60,311.30V309.2H322.80V311.30" class="br"/>
<text x="317.70" y="309.80" class="st" text-anchor="middle">**</text>
<rect x="29.6" y="28.0" width="8.6" height="4.2" rx="0.7" class="bc"/>
<rect x="29.6" y="36.6" width="8.6" height="4.2" rx="0.7" class="ba"/>
<text x="43.0" y="32.4" class="lg">CTRL</text>
<text x="43.0" y="41.0" class="lg">AIA</text>
<defs>
<filter id="tg0" filterUnits="userSpaceOnUse" x="394" y="45" width="101" height="76" color-interpolation-filters="sRGB">
<feTurbulence type="turbulence" baseFrequency="0.08" numOctaves="2" seed="4" result="n"/>
<feColorMatrix in="n" type="matrix" values="0 0 0 0 0  0 0 0 0 0  0 0 0 0 0  -2 0 0 0 1" result="h"/>
<feGaussianBlur in="h" stdDeviation="0.5" result="hb"/>
<feDiffuseLighting in="hb" surfaceScale="3.5" diffuseConstant="1.0" lighting-color="#fff" result="lit"><feDistantLight azimuth="235" elevation="50"/></feDiffuseLighting>
<feComponentTransfer in="lit" result="lt"><feFuncR type="linear" slope="0.72" intercept="0.18"/><feFuncG type="linear" slope="0.72" intercept="0.18"/><feFuncB type="linear" slope="0.72" intercept="0.18"/></feComponentTransfer>
<feComponentTransfer in="hb" result="mk"><feFuncA type="linear" slope="8" intercept="-0.6"/></feComponentTransfer>
<feComposite in="lt" in2="mk" operator="in"/>
</filter>
<filter id="dg0" x="-5%" y="-5%" width="110%" height="110%" color-interpolation-filters="sRGB"><feTurbulence type="turbulence" baseFrequency="0.4" numOctaves="2" seed="54" result="dn"/><feDisplacementMap in="SourceGraphic" in2="dn" scale="1.8" xChannelSelector="R" yChannelSelector="G"/></filter>
<mask id="cg0" maskUnits="userSpaceOnUse" x="0" y="0" width="760" height="412"><polygon fill="#fff" filter="url(#dg0)" points="412.5,48.3 425,47.6 440,48 461.4,48.4 460.4,54.7 454.6,59.6 459.4,64.4 467.2,70.2 471,75 474,83.8 478.8,89.7 484.7,90.7 490.5,98.4 492.4,104.3 487.6,106.2 485.6,109.1 485.6,116.9 472.6,118.4 397.2,118.4 398,102 399.5,91.6 401.5,86 406.6,85.5 403.7,84.5 401.8,75 404.7,67 407.6,58 410,52"/></mask>
<filter id="tg8" filterUnits="userSpaceOnUse" x="515" y="50" width="121" height="70" color-interpolation-filters="sRGB">
<feTurbulence type="fractalNoise" baseFrequency="0.05 0.09" numOctaves="2" seed="9" result="n"/>
<feColorMatrix in="n" type="matrix" values="0 0 0 0 0  0 0 0 0 0  0 0 0 0 0  1 0 0 0 0" result="h"/>
<feGaussianBlur in="h" stdDeviation="0.5" result="hb"/>
<feDiffuseLighting in="hb" surfaceScale="4" diffuseConstant="1.05" lighting-color="#fff" result="lit"><feDistantLight azimuth="235" elevation="50"/></feDiffuseLighting>
<feComponentTransfer in="lit" result="lt"><feFuncR type="linear" slope="0.75" intercept="0.22"/><feFuncG type="linear" slope="0.75" intercept="0.22"/><feFuncB type="linear" slope="0.75" intercept="0.22"/></feComponentTransfer>
</filter>
<filter id="dg8" x="-5%" y="-5%" width="110%" height="110%" color-interpolation-filters="sRGB"><feTurbulence type="turbulence" baseFrequency="0.4" numOctaves="2" seed="59" result="dn"/><feDisplacementMap in="SourceGraphic" in2="dn" scale="1.8" xChannelSelector="R" yChannelSelector="G"/></filter>
<mask id="cg8" maskUnits="userSpaceOnUse" x="0" y="0" width="760" height="412"><polygon fill="#fff" filter="url(#dg8)" points="559.5,55.5 571.9,52.8 603.9,54.4 607,60.6 610,71 611,83.3 615.2,89.5 627.6,93.7 631.7,99.8 632.8,113.3 613.2,115.3 582.2,117.4 551.3,116.4 545,112.2 534.8,106 526.5,99.8 519.3,89.5 518.3,83.3 522.4,75 530.6,74 547.1,72 555.4,62.7"/></mask>
<filter id="tg24" filterUnits="userSpaceOnUse" x="651" y="33" width="97" height="88" color-interpolation-filters="sRGB">
<feTurbulence type="fractalNoise" baseFrequency="0.06" numOctaves="2" seed="15" result="n"/>
<feColorMatrix in="n" type="matrix" values="0 0 0 0 0  0 0 0 0 0  0 0 0 0 0  1 0 0 0 0" result="h"/>
<feGaussianBlur in="h" stdDeviation="0.5" result="hb"/>
<feDiffuseLighting in="hb" surfaceScale="4" diffuseConstant="1.1" lighting-color="#fff" result="lit"><feDistantLight azimuth="235" elevation="50"/></feDiffuseLighting>
<feComponentTransfer in="lit" result="lt"><feFuncR type="linear" slope="0.75" intercept="0.25"/><feFuncG type="linear" slope="0.75" intercept="0.25"/><feFuncB type="linear" slope="0.75" intercept="0.25"/></feComponentTransfer>
</filter>
<filter id="dg24" x="-5%" y="-5%" width="110%" height="110%" color-interpolation-filters="sRGB"><feTurbulence type="turbulence" baseFrequency="0.4" numOctaves="2" seed="64" result="dn"/><feDisplacementMap in="SourceGraphic" in2="dn" scale="1.8" xChannelSelector="R" yChannelSelector="G"/></filter>
<mask id="cg24" maskUnits="userSpaceOnUse" x="0" y="0" width="760" height="412"><polygon fill="#fff" filter="url(#dg24)" points="696.9,43.8 707.2,36.9 716.4,35.1 724.5,38.1 729.1,46.1 732.6,53 731.4,60 726.8,64.6 725.7,71.5 728,80.7 732.6,85.3 737.2,89.9 741.8,96.8 745.3,102.6 744.1,107.2 737.2,110.7 721,116.4 702.6,118.7 681.9,118.7 668,115.3 658.8,108.4 654.2,99.1 654.2,89.9 665.7,85.3 675,76.1 685.3,72.6 690,62.3 693.4,50.7"/></mask>
<filter id="th0" filterUnits="userSpaceOnUse" x="386" y="166" width="111" height="65" color-interpolation-filters="sRGB">
<feTurbulence type="turbulence" baseFrequency="0.1" numOctaves="1" seed="21" result="n"/>
<feColorMatrix in="n" type="matrix" values="0 0 0 0 0  0 0 0 0 0  0 0 0 0 0  -2.8 0 0 0 1" result="h"/>
<feGaussianBlur in="h" stdDeviation="0.6" result="hb"/>
<feDiffuseLighting in="hb" surfaceScale="2.5" diffuseConstant="1.0" lighting-color="#fff" result="lit"><feDistantLight azimuth="235" elevation="55"/></feDiffuseLighting>
<feComponentTransfer in="lit" result="lt"><feFuncR type="linear" slope="0.6" intercept="0.28"/><feFuncG type="linear" slope="0.6" intercept="0.28"/><feFuncB type="linear" slope="0.6" intercept="0.28"/></feComponentTransfer>
<feComponentTransfer in="hb" result="mk"><feFuncA type="linear" slope="10" intercept="-0.5"/></feComponentTransfer>
<feComposite in="lt" in2="mk" operator="in"/>
</filter>
<filter id="dh0" x="-5%" y="-5%" width="110%" height="110%" color-interpolation-filters="sRGB"><feTurbulence type="turbulence" baseFrequency="0.4" numOctaves="2" seed="71" result="dn"/><feDisplacementMap in="SourceGraphic" in2="dn" scale="1.8" xChannelSelector="R" yChannelSelector="G"/></filter>
<mask id="ch0" maskUnits="userSpaceOnUse" x="0" y="0" width="760" height="412"><polygon fill="#fff" filter="url(#dh0)" points="399.6,170 421.4,168.2 443.2,169.1 457.8,170 463.2,176.4 461.4,183.7 470.5,191 476,194.6 468.7,198.2 470.5,205.5 481.4,207.3 486.9,205.5 494.2,212.8 494.2,221.9 486.9,228.2 466.9,228.2 439.6,229.1 412.3,224.6 395.9,220 388.6,214.6 392.3,205.5 394.1,196.4 395.9,183.7"/></mask>
<filter id="th8" filterUnits="userSpaceOnUse" x="523" y="158" width="77" height="60" color-interpolation-filters="sRGB">
<feTurbulence type="turbulence" baseFrequency="0.06 0.14" numOctaves="1" seed="33" result="n"/>
<feColorMatrix in="n" type="matrix" values="0 0 0 0 0  0 0 0 0 0  0 0 0 0 0  -3 0 0 0 1" result="h"/>
<feGaussianBlur in="h" stdDeviation="0.6" result="hb"/>
<feDiffuseLighting in="hb" surfaceScale="2.5" diffuseConstant="1.0" lighting-color="#fff" result="lit"><feDistantLight azimuth="235" elevation="55"/></feDiffuseLighting>
<feComponentTransfer in="lit" result="lt"><feFuncR type="linear" slope="0.6" intercept="0.2"/><feFuncG type="linear" slope="0.6" intercept="0.2"/><feFuncB type="linear" slope="0.6" intercept="0.2"/></feComponentTransfer>
<feComponentTransfer in="hb" result="mk"><feFuncA type="linear" slope="10" intercept="-0.5"/></feComponentTransfer>
<feComposite in="lt" in2="mk" operator="in"/>
</filter>
<filter id="dh8" x="-5%" y="-5%" width="110%" height="110%" color-interpolation-filters="sRGB"><feTurbulence type="turbulence" baseFrequency="0.4" numOctaves="2" seed="77" result="dn"/><feDisplacementMap in="SourceGraphic" in2="dn" scale="1.8" xChannelSelector="R" yChannelSelector="G"/></filter>
<mask id="ch8" maskUnits="userSpaceOnUse" x="0" y="0" width="760" height="412"><polygon fill="#fff" filter="url(#dh8)" points="545,162.8 558.6,160.8 574.1,162.8 587.7,165.7 588.7,170.5 583.9,176.4 582.9,184.2 585.8,191.9 591.6,197.8 585,203 570,208 555,212 543,213.3 535.3,209.4 533.3,203.6 531.4,197.8 525.5,188 527.5,182.2 537.2,174.4 541.1,168.6"/></mask>
<filter id="th8t" filterUnits="userSpaceOnUse" x="538" y="195" width="93" height="40" color-interpolation-filters="sRGB">
<feTurbulence type="turbulence" baseFrequency="0.12" numOctaves="1" seed="35" result="n"/>
<feColorMatrix in="n" type="matrix" values="0 0 0 0 0  0 0 0 0 0  0 0 0 0 0  -2.6 0 0 0 1" result="h"/>
<feGaussianBlur in="h" stdDeviation="0.6" result="hb"/>
<feDiffuseLighting in="hb" surfaceScale="2.5" diffuseConstant="1.0" lighting-color="#fff" result="lit"><feDistantLight azimuth="235" elevation="55"/></feDiffuseLighting>
<feComponentTransfer in="lit" result="lt"><feFuncR type="linear" slope="0.6" intercept="0.26"/><feFuncG type="linear" slope="0.6" intercept="0.26"/><feFuncB type="linear" slope="0.6" intercept="0.26"/></feComponentTransfer>
<feComponentTransfer in="hb" result="mk"><feFuncA type="linear" slope="10" intercept="-0.5"/></feComponentTransfer>
<feComposite in="lt" in2="mk" operator="in"/>
</filter>
<filter id="dh8t" x="-5%" y="-5%" width="110%" height="110%" color-interpolation-filters="sRGB"><feTurbulence type="turbulence" baseFrequency="0.4" numOctaves="2" seed="78" result="dn"/><feDisplacementMap in="SourceGraphic" in2="dn" scale="1.8" xChannelSelector="R" yChannelSelector="G"/></filter>
<mask id="ch8t" maskUnits="userSpaceOnUse" x="0" y="0" width="760" height="412"><polygon fill="#fff" filter="url(#dh8t)" points="591.6,197.8 599.4,201.6 611,211.4 618.8,219.1 628,225 618.8,228.9 611,232.7 591.6,232.7 572.2,231.8 560.5,228.9 548.9,225 541.1,219.1 543,213.3 555,212 570,208 585,203"/></mask>
<filter id="sb" x="-50%" y="-50%" width="200%" height="200%"><feGaussianBlur stdDeviation="3"/></filter>
<filter id="sb1" x="-50%" y="-50%" width="200%" height="200%"><feGaussianBlur stdDeviation="0.5"/></filter>
<filter id="th24" filterUnits="userSpaceOnUse" x="645" y="160" width="115" height="70" color-interpolation-filters="sRGB">
<feTurbulence type="fractalNoise" baseFrequency="0.2" numOctaves="3" seed="41" result="n1r"/>
<feColorMatrix in="n1r" type="matrix" values="1 0 0 0 0  1 0 0 0 0  1 0 0 0 0  0 0 0 0 1" result="n1"/>
<feColorMatrix in="n1" type="matrix" values="1 0 0 0 0  1 0 0 0 0  1 0 0 0 0  0 0 0 0 1" result="g"/>
<feComponentTransfer in="g" result="m"><feFuncR type="table" tableValues="0.25 0.3 0.4 0.5 0.6 0.7 0.75 0.8 0.85 0.9 0.95"/><feFuncG type="table" tableValues="0.25 0.3 0.4 0.5 0.6 0.7 0.75 0.8 0.85 0.9 0.95"/><feFuncB type="table" tableValues="0.25 0.3 0.4 0.5 0.6 0.7 0.75 0.8 0.85 0.9 0.95"/></feComponentTransfer>
<feGaussianBlur in="m" stdDeviation="0.4"/>
</filter>
<clipPath id="cfr">
<polygon points="668.7,170.2 675.5,170.5 681.5,172.8 684.9,177 683.2,180 677.2,179.6 673.8,176.2 672.1,171.9"/>
<polygon points="701.9,170.5 705.3,171 704.5,174.5 702.2,173.5"/>
<polygon points="654.2,204.5 658.5,205 661.9,209.3 667,214.4 668.7,221.2 662.8,221.2 661,214.4 656.8,209.3 654.2,206"/>
<polygon points="732.5,211 738.4,210.2 737.5,214.5 733,216.1"/>
<polygon points="752,201 757,200.8 757.5,205 753,206"/>
<polygon points="742.7,211 750,209.3 756.3,210.5 756,217.8 748,217.5 743,214.5"/>
</clipPath>
</defs>
<g><g mask="url(#cg0)"><rect x="394" y="45" width="101" height="76" filter="url(#tg0)"/><g style="mix-blend-mode:multiply"><ellipse cx="417" cy="66" rx="15" ry="19" fill="#777" filter="url(#sb)"/><ellipse cx="432" cy="82" rx="14" ry="8" fill="#999" filter="url(#sb)"/><ellipse cx="452" cy="95" rx="12" ry="8" fill="#aaa" filter="url(#sb)"/><ellipse cx="420" cy="105" rx="16" ry="8" fill="#bbb" filter="url(#sb)"/></g></g></g>
<g><g mask="url(#cg8)"><rect x="515" y="50" width="121" height="70" filter="url(#tg8)"/><g style="mix-blend-mode:multiply"><ellipse cx="526" cy="93" rx="8" ry="15" fill="#6a6a6a" filter="url(#sb)"/><ellipse cx="540" cy="109" rx="8" ry="6" fill="#7a7a7a" filter="url(#sb)"/><ellipse cx="578" cy="63" rx="9" ry="4" fill="#5a5a5a" filter="url(#sb)"/><ellipse cx="600" cy="62" rx="6" ry="6" fill="#999" filter="url(#sb)"/><ellipse cx="556" cy="64" rx="5" ry="6" fill="#888" filter="url(#sb)"/><ellipse cx="592.2" cy="81.6" rx="2.6" ry="2.2" fill="#505050" filter="url(#sb1)"/><ellipse cx="574" cy="83.3" rx="2.8" ry="2.2" fill="#505050" filter="url(#sb1)"/><ellipse cx="563.7" cy="78.8" rx="3" ry="1.6" fill="#505050" filter="url(#sb1)"/><ellipse cx="600.8" cy="96.7" rx="2.4" ry="1.8" fill="#505050" filter="url(#sb1)"/><ellipse cx="622.5" cy="99.8" rx="2.0" ry="2.2" fill="#505050" filter="url(#sb1)"/><ellipse cx="598.7" cy="107" rx="2.2" ry="1.8" fill="#505050" filter="url(#sb1)"/><ellipse cx="608" cy="107" rx="2.6" ry="1.6" fill="#505050" filter="url(#sb1)"/><ellipse cx="618.3" cy="110.2" rx="2.0" ry="1.6" fill="#505050" filter="url(#sb1)"/><ellipse cx="569.8" cy="92.6" rx="1.8" ry="1.6" fill="#505050" filter="url(#sb1)"/><ellipse cx="578" cy="102" rx="1.6" ry="1.4" fill="#505050" filter="url(#sb1)"/><ellipse cx="585" cy="95" rx="1.4" ry="1.2" fill="#505050" filter="url(#sb1)"/><ellipse cx="546" cy="86" rx="2.2" ry="1.6" fill="#505050" filter="url(#sb1)"/><ellipse cx="553" cy="97" rx="2" ry="1.6" fill="#505050" filter="url(#sb1)"/></g><path d="M522.4,75 L547,72.2 L607,69.2" fill="none" stroke="#3a3a3a" stroke-width="0.9"/><path d="M526,77.5 L586,73.8" fill="none" stroke="#555" stroke-width="0.7"/><path d="M580.8,75 L581.6,93" fill="none" stroke="#777" stroke-width="0.6"/><path d="M607.5,57 L610.6,82" fill="none" stroke="#444" stroke-width="1.1"/><path d="M559.5,55.2 L571.9,52.9 L604,54.6" fill="none" stroke="#444" stroke-width="0.9"/><path d="M551.3,116.4 L582.2,117.4 L613.2,115.3 L632.8,113.3" fill="none" stroke="#404040" stroke-width="1.1"/><path d="M611,86 L627.6,93.7" fill="none" stroke="#555" stroke-width="0.8"/><path d="M519,84 L527,100 L545,112" fill="none" stroke="#333" stroke-width="1"/><ellipse cx="530.5" cy="78.5" rx="3.2" ry="2.2" fill="#f4f4f4" filter="url(#sb1)"/></g></g>
<g><g mask="url(#cg24)"><rect x="651" y="33" width="97" height="88" filter="url(#tg24)"/><g style="mix-blend-mode:multiply"><ellipse cx="658" cy="99" rx="5" ry="11" fill="#6a6a6a" filter="url(#sb)"/><ellipse cx="700" cy="116" rx="36" ry="3" fill="#999" filter="url(#sb)"/><ellipse cx="722" cy="40" rx="6" ry="4" fill="#bbb" filter="url(#sb)"/><ellipse cx="705.3" cy="45" rx="1.8" ry="1.4" fill="#505050" filter="url(#sb1)"/><ellipse cx="706.5" cy="57.6" rx="1.8" ry="1.8" fill="#505050" filter="url(#sb1)"/><ellipse cx="714.5" cy="56.5" rx="1.2" ry="1.0" fill="#505050" filter="url(#sb1)"/><ellipse cx="693.8" cy="64.6" rx="1.8" ry="2.4" fill="#505050" filter="url(#sb1)"/><ellipse cx="712.2" cy="68" rx="1.8" ry="1.4" fill="#505050" filter="url(#sb1)"/><ellipse cx="699.5" cy="73.8" rx="1.0" ry="1.0" fill="#505050" filter="url(#sb1)"/><ellipse cx="681" cy="78.4" rx="2.0" ry="2.6" fill="#505050" filter="url(#sb1)"/><ellipse cx="676.3" cy="92.5" rx="2.4" ry="1.6" fill="#505050" filter="url(#sb1)"/><ellipse cx="689.5" cy="92.5" rx="1.8" ry="1.2" fill="#505050" filter="url(#sb1)"/><ellipse cx="698.7" cy="82.6" rx="2.2" ry="1.2" fill="#505050" filter="url(#sb1)"/><ellipse cx="723.7" cy="93" rx="1.1" ry="2.6" fill="#505050" filter="url(#sb1)"/><ellipse cx="729" cy="95.8" rx="1.6" ry="1.6" fill="#505050" filter="url(#sb1)"/><ellipse cx="684.2" cy="106.3" rx="2.8" ry="1.2" fill="#505050" filter="url(#sb1)"/><ellipse cx="702.6" cy="109" rx="1.8" ry="2.2" fill="#505050" filter="url(#sb1)"/><ellipse cx="690.8" cy="101" rx="1.2" ry="0.8" fill="#505050" filter="url(#sb1)"/><ellipse cx="715.8" cy="100.4" rx="1.4" ry="1.0" fill="#505050" filter="url(#sb1)"/><ellipse cx="719" cy="99" rx="1.0" ry="1.0" fill="#505050" filter="url(#sb1)"/><ellipse cx="727" cy="66" rx="1.6" ry="2.4" fill="#505050" filter="url(#sb1)"/><ellipse cx="670" cy="103" rx="1.6" ry="1.2" fill="#505050" filter="url(#sb1)"/></g><path d="M664,114 L700,118.2 L720,116 L740,108" fill="none" stroke="#555" stroke-width="0.9"/><path d="M660,89 Q690,85 728,86" fill="none" stroke="#999" stroke-width="0.6"/><path d="M668,97 Q700,94 735,97" fill="none" stroke="#aaa" stroke-width="0.5"/></g></g>
<g><g mask="url(#ch0)"><rect x="386" y="166" width="111" height="65" filter="url(#th0)"/><g style="mix-blend-mode:multiply"><ellipse cx="432" cy="178" rx="8" ry="6" fill="#888" filter="url(#sb)"/></g></g></g>
<g><g mask="url(#ch8)"><rect x="523" y="158" width="77" height="60" filter="url(#th8)"/><g style="mix-blend-mode:multiply"><ellipse cx="556" cy="186" rx="20" ry="18" fill="#8a8a8a" filter="url(#sb)"/><ellipse cx="565" cy="167" rx="16" ry="5" fill="#909090" filter="url(#sb)"/></g></g></g>
<g><g mask="url(#ch8t)"><rect x="538" y="195" width="93" height="40" filter="url(#th8t)"/><g style="mix-blend-mode:multiply"></g></g></g>
<g clip-path="url(#cfr)"><rect x="645" y="160" width="115" height="70" filter="url(#th24)"/></g>
<g fill="none" stroke="#333" stroke-width="0.6">
<polygon points="668.7,170.2 675.5,170.5 681.5,172.8 684.9,177 683.2,180 677.2,179.6 673.8,176.2 672.1,171.9"/>
<polygon points="654.2,204.5 658.5,205 661.9,209.3 667,214.4 668.7,221.2 662.8,221.2 661,214.4 656.8,209.3 654.2,206"/>
<polygon points="732.5,211 738.4,210.2 737.5,214.5 733,216.1"/>
<polygon points="752,201 757,200.8 757.5,205 753,206"/>
<polygon points="742.7,211 750,209.3 756.3,210.5 756,217.8 748,217.5 743,214.5"/>
</g>
<path d="M668.5,170 L676,171" stroke="#333" stroke-width="0.7"/>
<polygon fill="#2a2a2a" points="712,170.5 740.1,169.4 741,186.4 735,180.4 729.9,176.2 721.4,173.6 714.6,176.2 712,172.8"/>
<ellipse cx="726" cy="179.5" rx="4" ry="2.6" fill="#bbb"/>
<circle cx="701" cy="211.9" r="0.6" fill="#333"/>
<circle cx="704.4" cy="209.3" r="0.6" fill="#333"/>
<circle cx="708.7" cy="218.7" r="0.6" fill="#333"/>
<circle cx="729" cy="185.5" r="0.7" fill="#333"/>
<text x="360.2" y="10.9" class="lt">G</text>
<text x="360.0" y="151.9" class="lt">H</text>
<text x="435.6" y="21.3" class="big" text-anchor="middle">Day 0</text>
<text x="574.2" y="21.3" class="big" text-anchor="middle">Day 8</text>
<text x="709.1" y="21.3" class="big" text-anchor="middle">Day 24</text>
<text x="360.3" y="86.1" class="lab">CTRL</text>
<text transform="translate(361.0,202.8) scale(1,1.1)" class="lab">AIA</text>
<path d="M716.3,241.5H755.9" stroke="#111" stroke-width="1.8"/>
<text x="735.6" y="255.8" class="sb" text-anchor="middle">200 µm</text>

</svg>
</body></html>
